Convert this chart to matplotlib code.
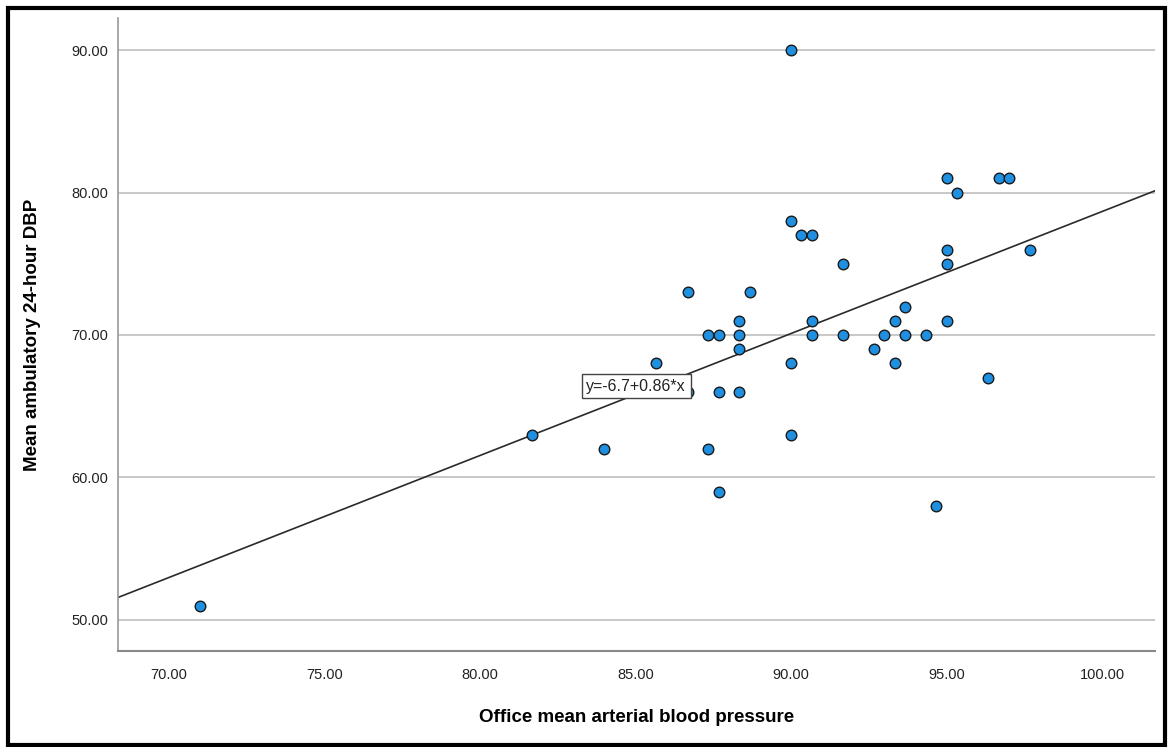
import numpy as np
import matplotlib
matplotlib.use("Agg")
import matplotlib.pyplot as plt
from matplotlib.patches import Rectangle

plt.rcParams["font.family"] = ["Liberation Sans", "DejaVu Sans"]

# Office MAP (x) vs mean ambulatory 24-hour DBP (y)
office_map = [71.0, 81.67, 84.0, 85.67, 86.67, 86.67, 87.33, 87.67, 87.33, 87.67,
              87.67, 88.33, 88.33, 88.33, 88.33, 88.67, 90.0, 90.0, 90.0, 90.0,
              90.33, 90.67, 90.67, 90.67, 91.67, 91.67, 92.67, 93.0, 93.33, 93.33,
              93.67, 93.67, 94.33, 94.67, 95.0, 95.0, 95.0, 95.0, 95.33, 96.33,
              96.67, 97.0, 97.67]
amb_dbp = [51, 63, 62, 68, 73, 66, 70, 70, 62, 66,
           59, 71, 70, 69, 66, 73, 90, 78, 68, 63,
           77, 77, 71, 70, 75, 70, 69, 70, 71, 68,
           72, 70, 70, 58, 81, 76, 75, 71, 80, 67,
           81, 81, 76]

x_ticks = [70, 75, 80, 85, 90, 95, 100]
y_ticks = [50, 60, 70, 80, 90]
fit_label = "y=-6.7+0.86*x"

x = np.array(office_map)
y = np.array(amb_dbp)

fig = plt.figure(figsize=(11.7, 7.47), dpi=100)
ax = fig.add_axes([118 / 1170, 1 - 651 / 747, (1155 - 118) / 1170, (651 - 18) / 747])

xmin, xmax = 68.36, 101.7
ax.set_xlim(xmin, xmax)
ax.set_ylim(47.82, 92.25)

for v in y_ticks:
    ax.axhline(v, color="#c4c4c4", lw=1.3, zorder=0)

# regression line
slope, intercept = np.polyfit(x, y, 1)
xs = np.array([xmin, xmax])
ax.plot(xs, intercept + slope * xs, color="#2a2a2a", lw=1.2, zorder=2)

ax.scatter(x, y, s=58, color="#1e8fe1", edgecolors="#1a1a1a", linewidths=1.0, zorder=3)

ax.text(83.42, 66.4, fit_label, fontsize=11.5, va="center", ha="left", color="#222222",
        bbox=dict(boxstyle="square,pad=0.28", facecolor="white", edgecolor="#444444", lw=1.0),
        zorder=4)

ax.set_xticks(x_ticks)
ax.set_xticklabels([f"{v:.2f}" for v in x_ticks], fontsize=10.5, color="#222222")
ax.set_yticks(y_ticks)
ax.set_yticklabels([f"{v:.2f}" for v in y_ticks], fontsize=10.5, color="#222222")
ax.tick_params(axis="x", length=0, pad=12)
ax.tick_params(axis="y", length=0, pad=7)

for side in ["top", "right"]:
    ax.spines[side].set_visible(False)
ax.spines["left"].set_color("#9a9a9a")
ax.spines["left"].set_linewidth(1.2)
ax.spines["bottom"].set_color("#8a8a8a")
ax.spines["bottom"].set_linewidth(1.5)

ax.set_xlabel("Office mean arterial blood pressure", fontsize=13.5, fontweight="bold", labelpad=20)
ax.set_ylabel("Mean ambulatory 24-hour DBP", fontsize=13.5, fontweight="bold", labelpad=22)

# outer black frame
fig.patches.append(Rectangle((8 / 1170, 2 / 747), 1157 / 1170, 737 / 747,
                             transform=fig.transFigure, fill=False, edgecolor="black", lw=3))

fig.savefig("out.png", dpi=100)
